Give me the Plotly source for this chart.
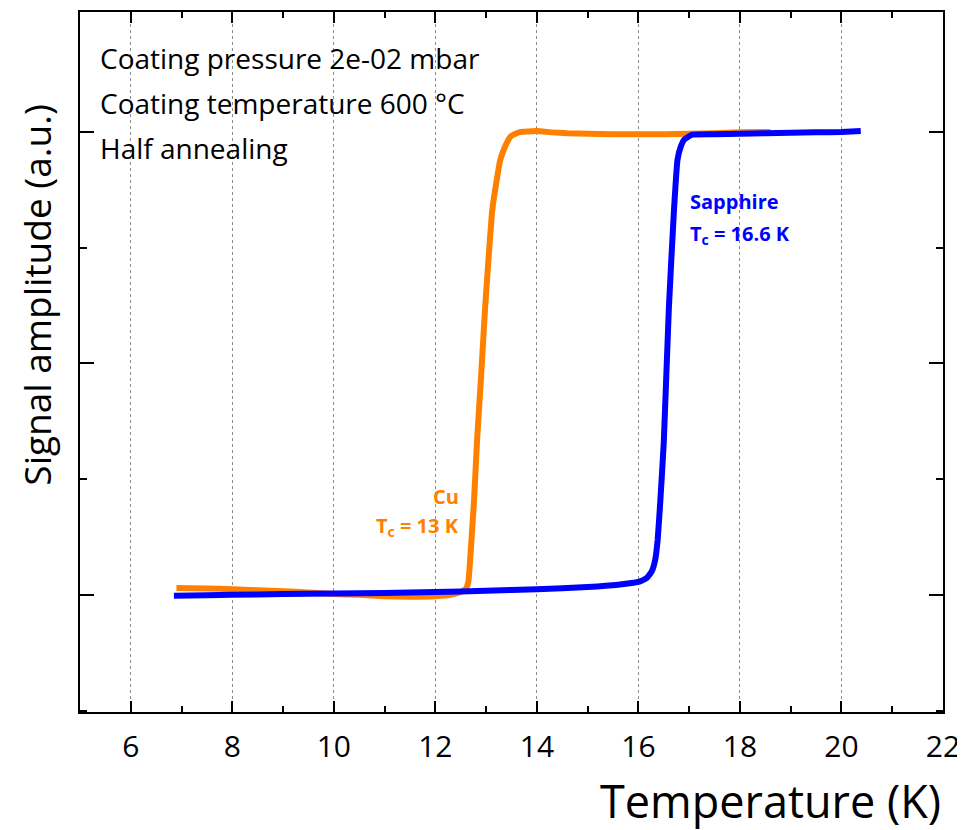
import plotly.graph_objects as go

# Cu sample (orange)
cu_T = [6.9, 7.5, 8.0, 8.5, 9.0, 9.5, 10.0, 10.5, 11.0, 11.5, 12.0, 12.3, 12.5, 12.6, 12.65, 12.7, 12.76, 12.82, 12.9, 12.98, 13.05, 13.12, 13.2, 13.28, 13.38, 13.48, 13.58, 13.68, 13.85, 14.0, 14.3, 14.6, 15.0, 15.5, 16.0, 16.5, 17.0, 17.5, 18.0, 18.6]
cu_S = [0.015, 0.014, 0.012, 0.010, 0.008, 0.005, 0.002, 0.000, -0.003, -0.004, -0.003, 0.000, 0.006, 0.013, 0.028, 0.10, 0.20, 0.33, 0.47, 0.62, 0.73, 0.83, 0.89, 0.94, 0.97, 0.99, 0.996, 1.000, 1.001, 1.002, 0.999, 0.997, 0.996, 0.995, 0.995, 0.995, 0.996, 0.997, 0.999, 1.000]

# Sapphire sample (blue)
sa_T = [6.85, 7.5, 8.0, 9.0, 10.0, 11.0, 12.0, 13.0, 14.0, 15.0, 15.6, 16.0, 16.16, 16.26, 16.33, 16.38, 16.43, 16.5, 16.6, 16.7, 16.77, 16.84, 16.9, 17.06, 17.5, 18.0, 18.5, 19.0, 19.5, 20.0, 20.38]
sa_S = [-0.002, -0.001, 0.000, 0.002, 0.003, 0.004, 0.006, 0.009, 0.012, 0.017, 0.022, 0.028, 0.036, 0.050, 0.075, 0.12, 0.20, 0.33, 0.62, 0.83, 0.94, 0.97, 0.983, 0.994, 0.995, 0.996, 0.997, 0.998, 0.999, 1.000, 1.002]

x_ticks = [6, 8, 10, 12, 14, 16, 18, 20, 22]
y_major = [0, 0.5, 1.0]

info_lines = ["Coating pressure 2e-02 mbar", "Coating temperature 600 °C", "Half annealing"]

ORANGE = "#FF8000"
BLUE = "#0000FF"
FONT = "Open Sans"

fig = go.Figure()
fig.add_trace(go.Scatter(x=cu_T, y=cu_S, mode="lines", line=dict(color=ORANGE, width=6, shape="spline", smoothing=0.4), name="Cu"))
fig.add_trace(go.Scatter(x=sa_T, y=sa_S, mode="lines", line=dict(color=BLUE, width=6, shape="spline", smoothing=0.4), name="Sapphire"))

# page body has an 8px default margin, so the figure is 8px smaller and margins compensate
fig.update_layout(
    width=957, height=822,
    margin=dict(l=72, r=22, t=4, b=118, autoexpand=False),
    paper_bgcolor="white", plot_bgcolor="white",
    showlegend=False,
    font=dict(family=FONT, color="black"),
)

fig.update_xaxes(
    range=[5, 22], tickvals=x_ticks, ticktext=[str(t) for t in x_ticks],
    ticks="inside", ticklen=11, tickwidth=1.5, tickcolor="black",
    mirror="allticks", showline=True, linecolor="black", linewidth=2,
    showgrid=True, gridcolor="#8a8a8a", griddash="dot", gridwidth=1,
    tickfont=dict(size=30, family=FONT), zeroline=False, automargin=False,
    ticklabelstandoff=7,
    minor=dict(dtick=1, tick0=0, ticks="inside", ticklen=6, tickwidth=1.5, tickcolor="black", showgrid=False),
)
fig.update_yaxes(
    range=[-0.253, 1.259], tickvals=y_major, showticklabels=False,
    ticks="inside", ticklen=14, tickwidth=1.5, tickcolor="black",
    mirror="allticks", showline=True, linecolor="black", linewidth=2,
    showgrid=False, zeroline=False, automargin=False,
    minor=dict(tickvals=[-0.25, 0.25, 0.75], ticks="inside", ticklen=7, tickwidth=1.5, tickcolor="black", showgrid=False),
)

# Info text top-left
for txt, yv in zip(info_lines, [0.934, 0.870, 0.805]):
    fig.add_annotation(x=0.021, y=yv, xref="paper", yref="paper", text=txt, showarrow=False,
                       xanchor="left", yanchor="middle", font=dict(size=28, family=FONT, color="black"))

# Curve labels
fig.add_annotation(x=12.51, y=0.212, text="<b>Cu</b>", showarrow=False, xanchor="right", yanchor="middle",
                   font=dict(size=20, family=FONT, color=ORANGE))
fig.add_annotation(x=12.51, y=0.147, text="<b>T<sub>c</sub> = 13 K</b>", showarrow=False, xanchor="right", yanchor="middle",
                   font=dict(size=20, family=FONT, color=ORANGE))
fig.add_annotation(x=16.97, y=0.849, text="<b>Sapphire</b>", showarrow=False, xanchor="left", yanchor="middle",
                   font=dict(size=20, family=FONT, color=BLUE))
fig.add_annotation(x=16.97, y=0.778, text="<b>T<sub>c</sub> = 16.6 K</b>", showarrow=False, xanchor="left", yanchor="middle",
                   font=dict(size=20, family=FONT, color=BLUE))

# Axis titles
fig.add_annotation(x=1.0, y=-0.126, xref="paper", yref="paper", text="Temperature (K)", showarrow=False,
                   xanchor="right", yanchor="middle", font=dict(size=45, family=FONT, color="black"))
fig.add_annotation(x=-0.050, y=0.596, xref="paper", yref="paper", text="Signal amplitude (a.u.)", showarrow=False,
                   textangle=-90, xanchor="center", yanchor="middle", font=dict(size=37, family=FONT, color="black"))

fig.write_html("out.html")
